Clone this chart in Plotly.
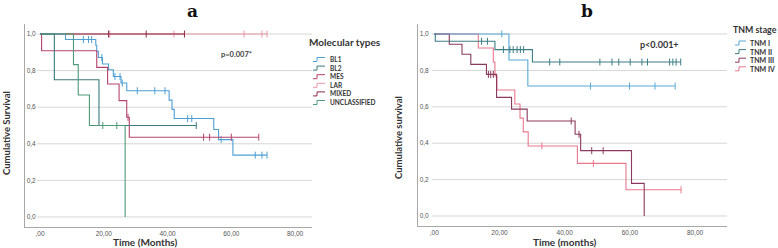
import numpy as np
import plotly.graph_objects as go

W, H = 778, 248

# ---------------- Panel a: molecular types ----------------
mol_names = ["BL1", "BL2", "MES", "LAR", "MIXED", "UNCLASSIFIED"]
mol_colors = ["#4e9fd4", "#3b7a7e", "#b5436d", "#ec97a6", "#8c2a45", "#4f9a78"]

BL1_t = [8.0, 17.5, 17.8, 18.3, 19.6, 21.5, 23.0, 25.4, 27.2, 40.5, 41.4, 42.1, 54.5, 56.0, 60.5]
BL1_s = [0.970, 0.939, 0.906, 0.872, 0.836, 0.805, 0.768, 0.732, 0.690, 0.639, 0.588, 0.538, 0.478, 0.423, 0.338]
BL1_c = [13.6, 15.2, 16.2, 19.4, 23.5, 25.1, 25.8, 30.5, 36.0, 39.2, 46.3, 47.6, 56.8, 67.5, 69.6, 71.2]

BL2_t = [4.5, 18.5]
BL2_s = [0.75, 0.50]
BL2_c = [49.0]

MES_t = [0.5, 17.8, 21.2, 24.8, 27.2, 28.0]
MES_s = [0.909, 0.818, 0.727, 0.636, 0.545, 0.436]
MES_c = [27.6, 51.3, 53.2, 60.0, 68.6]

LAR_t = []
LAR_s = []
LAR_c = [21.9, 42.0, 64.0, 69.6, 71.2]

MIXED_t = []
MIXED_s = []
MIXED_c = [21.5, 33.3, 45.3]

UNCL_t = [10.5, 12.0, 15.5, 26.7]
UNCL_s = [0.833, 0.667, 0.500, 0.0]
UNCL_c = [19.7, 24.1]

# ---------------- Panel b: TNM stage ----------------
tnm_names = ["TNM I", "TNM II", "TNM III", "TNM IV"]
tnm_colors = ["#58a9d6", "#3c7d84", "#8a3a5e", "#e8788c"]

T1_t = [22.9, 28.7]
T1_s = [0.857, 0.714]
T1_c = [20.7, 47.9, 59.9, 67.7, 73.9]

T2_t = [0.3, 18.6, 30.1]
T2_s = [0.960, 0.914, 0.846]
T2_c = [14.5, 16.3, 21.2, 23.2, 24.2, 25.4, 26.4, 27.4, 35.4, 38.5, 50.8, 54.5,
        56.6, 60.1, 63.7, 65.4, 72.2, 73.2, 74.2, 75.6]

T3_t = [4.6, 8.5, 11.2, 16.0, 19.1, 23.7, 28.5, 43.2, 44.9, 60.5, 64.4]
T3_s = [0.944, 0.889, 0.833, 0.778, 0.652, 0.587, 0.522, 0.449, 0.359, 0.179, 0.0]
T3_c = [16.6, 17.3, 18.1, 42.0, 44.4, 48.3, 51.8]

T4_t = [13.5, 18.1, 18.6, 19.2, 24.7, 26.3, 27.3, 28.8, 43.9, 58.8]
T4_s = [0.923, 0.846, 0.769, 0.692, 0.615, 0.538, 0.462, 0.385, 0.289, 0.144]
T4_c = [33.0, 48.8, 75.7]

x_tick_vals = [0, 20, 40, 60, 80]
x_tick_text = [",00", "20,00", "40,00", "60,00", "80,00"]
y_tick_vals = [0.0, 0.2, 0.4, 0.6, 0.8, 1.0]
y_tick_text = ["0,0", "0,2", "0,4", "0,6", "0,8", "1,0"]


def px(x):
    return x / W


def py(y):
    return 1 - y / H


def surv_at(times, surv, t):
    times = np.asarray(times, dtype=float)
    i = np.searchsorted(times, t, side="right")
    return 1.0 if i == 0 else float(np.asarray(surv)[i - 1])


fig = go.Figure()


def add_group(t, s, c, color, xa, ya):
    end = max(list(t) + list(c))
    xs = [0.0] + list(t)
    ys = [1.0] + list(s)
    if end > xs[-1]:
        xs.append(end)
        ys.append(ys[-1])
    fig.add_trace(go.Scatter(x=xs, y=ys, mode="lines", line=dict(color=color, width=1.1, shape="hv"),
                             xaxis=xa, yaxis=ya, showlegend=False, hoverinfo="skip"))
    if c:
        cy = [surv_at(t, s, ci) for ci in c]
        fig.add_trace(go.Scatter(x=c, y=cy, mode="markers",
                                 marker=dict(symbol="line-ns", size=5, line=dict(color=color, width=1)),
                                 xaxis=xa, yaxis=ya, showlegend=False, hoverinfo="skip"))


mol_data = [(BL1_t, BL1_s, BL1_c), (BL2_t, BL2_s, BL2_c), (MES_t, MES_s, MES_c),
            (LAR_t, LAR_s, LAR_c), (MIXED_t, MIXED_s, MIXED_c), (UNCL_t, UNCL_s, UNCL_c)]
draw_order_a = [3, 4, 0, 2, 1, 5]
for i in draw_order_a:
    t, s, c = mol_data[i]
    add_group(t, s, c, mol_colors[i], "x", "y")

tnm_data = [(T1_t, T1_s, T1_c), (T2_t, T2_s, T2_c), (T3_t, T3_s, T3_c), (T4_t, T4_s, T4_c)]
for i in [3, 2, 0, 1]:
    t, s, c = tnm_data[i]
    add_group(t, s, c, tnm_colors[i], "x2", "y2")

axis_line = "#a8a8a8"
grid_col = "#d6d6d6"
tick_font = dict(family="Liberation Sans, Arial, sans-serif", size=6.5, color="#555555")

xcommon = dict(showline=True, linecolor=axis_line, linewidth=1, showgrid=False, zeroline=False,
               tickvals=x_tick_vals, ticktext=x_tick_text, ticks="", tickfont=tick_font, fixedrange=True)
ycommon = dict(showline=True, linecolor=axis_line, linewidth=1, showgrid=False, zeroline=False,
               tickvals=y_tick_vals, ticktext=y_tick_text, ticks="", tickfont=tick_font,
               ticklabelposition="inside", range=[-0.055, 1.055], fixedrange=True)

fig.update_layout(
    width=W, height=H, autosize=False,
    margin=dict(l=0, r=0, t=0, b=0),
    paper_bgcolor="white", plot_bgcolor="white",
    xaxis=dict(domain=[px(25), px(312)], range=[-4.7, 85.3], anchor="y", **xcommon),
    yaxis=dict(domain=[py(227), py(24)], anchor="x", **ycommon),
    xaxis2=dict(domain=[px(418), px(727)], range=[-5.0, 89.8], anchor="y2", **xcommon),
    yaxis2=dict(domain=[py(226), py(24)], anchor="x2", **ycommon),
)

shapes = []
for v in y_tick_vals:
    shapes.append(dict(type="line", xref="x domain", yref="y", x0=0.042, x1=1, y0=v, y1=v,
                       line=dict(color=grid_col, width=1), layer="below"))
    shapes.append(dict(type="line", xref="x2 domain", yref="y2", x0=0.045, x1=1, y0=v, y1=v,
                       line=dict(color=grid_col, width=1), layer="below"))

annotations = []
bold = "Lato, Open Sans, Liberation Sans, Arial, sans-serif"


def text(x, y, s, size, color="#333333", family=bold, xanchor="center", angle=0, weight="bold"):
    annotations.append(dict(x=px(x), y=py(y), xref="paper", yref="paper", text=s, showarrow=False,
                            xanchor=xanchor, yanchor="middle", textangle=angle,
                            font=dict(family=family, size=size, color=color, weight=weight)))


# panel titles
text(192, 11, "a", 17, color="#111111", family="DejaVu Serif, Liberation Serif, serif")
text(587, 11, "b", 17, color="#111111", family="DejaVu Serif, Liberation Serif, serif")

# axis titles
text(6, 133, "Cumulative Survival", 9.5, angle=-90)
text(398, 137, "Cumulative survival", 9.5, angle=-90)
text(145, 242, "Time (Months)", 10)
text(565, 242, "Time (months)", 10)

# p values
text(236, 54, "p=0.007*", 7.5, color="#444444")
text(659, 45, "p<0.001+", 9)

# legends
text(307, 42, "Molecular types", 10, xanchor="left")
for i, name in enumerate(mol_names):
    yc = 59.5 + 8.6 * i
    shapes.append(dict(type="path", xref="paper", yref="paper",
                       path=f"M {px(313)} {py(yc + 2)} L {px(317)} {py(yc + 2)} L {px(317)} {py(yc - 2)} L {px(325)} {py(yc - 2)}",
                       line=dict(color=mol_colors[i], width=1)))
    text(328, yc, name, 6.5, xanchor="left")

text(731, 29, "TNM stage", 8.8, xanchor="left")
for i, name in enumerate(tnm_names):
    yc = 43 + 8.6 * i
    shapes.append(dict(type="path", xref="paper", yref="paper",
                       path=f"M {px(735)} {py(yc + 2)} L {px(739)} {py(yc + 2)} L {px(739)} {py(yc - 2)} L {px(746)} {py(yc - 2)}",
                       line=dict(color=tnm_colors[i], width=1)))
    text(748, yc, name, 7, xanchor="left")

fig.update_layout(shapes=shapes, annotations=annotations)
fig.write_html("out.html", config={"displayModeBar": False},
               post_script="document.body.style.margin='0';document.body.style.overflow='hidden';")
